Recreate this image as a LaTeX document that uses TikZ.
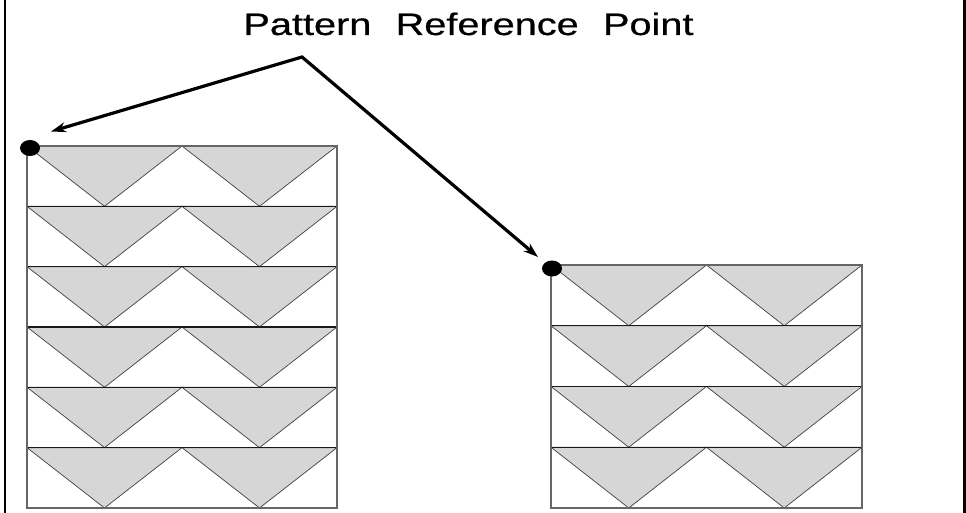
\documentclass[tikz,border=0pt]{standalone}
\usepackage{fontspec}
\usepackage{graphicx}
\setmainfont{Liberation Sans}
\newfontfamily\titlefont[FakeBold=0.6]{Liberation Sans}
\usetikzlibrary{arrows.meta,shapes.geometric}
\begin{document}
\begin{tikzpicture}[x=1pt,y=-1pt,
  tri/.style={fill=black!16, draw=black!75, line width=0.7pt, line join=miter},
  boxline/.style={draw=black!60, line width=1.4pt},
  rowline/.style={draw=black!90, line width=1.1pt},
  dot/.style={ellipse, fill=black, inner sep=0pt, minimum width=20pt, minimum height=16pt},
  pointer/.style={line width=3.2pt, line join=miter,
    {Stealth[length=15pt,width=10pt]}-{Stealth[length=15pt,width=10pt]}},
  framebar/.style={line width=2.8pt},
  titletext/.style={anchor=base, inner sep=0pt}]
\useasboundingbox (0,0) rectangle (966,513);

% side frame bars
\draw[framebar] (5,0) -- (5,513);
\draw[framebar] (964.6,0) -- (964.6,513);

% left stack: x 27..337, y 146..508, 6 rows
\foreach \i in {0,...,5}{
  \pgfmathsetmacro{\yt}{146+\i*60.33}
  \pgfmathsetmacro{\yb}{146+(\i+1)*60.33}
  \draw[tri] (27,\yt) -- (182,\yt) -- (104.5,\yb) -- cycle;
  \draw[tri] (182,\yt) -- (337,\yt) -- (259.5,\yb) -- cycle;
  \draw[rowline] (27,\yt) -- (337,\yt);
}
\draw[boxline] (27,146) rectangle (337,508);

% right stack: x 551..862, y 265..508, 4 rows
\foreach \i in {0,...,3}{
  \pgfmathsetmacro{\yt}{265+\i*60.75}
  \pgfmathsetmacro{\yb}{265+(\i+1)*60.75}
  \draw[tri] (551,\yt) -- (706.5,\yt) -- (628.75,\yb) -- cycle;
  \draw[tri] (706.5,\yt) -- (862,\yt) -- (784.25,\yb) -- cycle;
  \draw[rowline] (551,\yt) -- (862,\yt);
}
\draw[boxline] (551,265) rectangle (862,508);

% reference point dots
\node[dot] (dotL) at (30,148) {};
\node[dot] (dotR) at (552,268.5) {};

% title
\node[titletext] (title) at (468.5,35)
  {\titlefont\fontsize{31}{36}\selectfont\scalebox{1.28}[1]{Pattern\hspace{19pt}Reference\hspace{19pt}Point}};

% pointers
\coordinate (apex) at (302,57);
\coordinate (tipL) at (51,131.5);
\coordinate (tipR) at (538,257);
\draw[pointer] (tipL) -- (apex) -- (tipR);
\end{tikzpicture}
\end{document}
